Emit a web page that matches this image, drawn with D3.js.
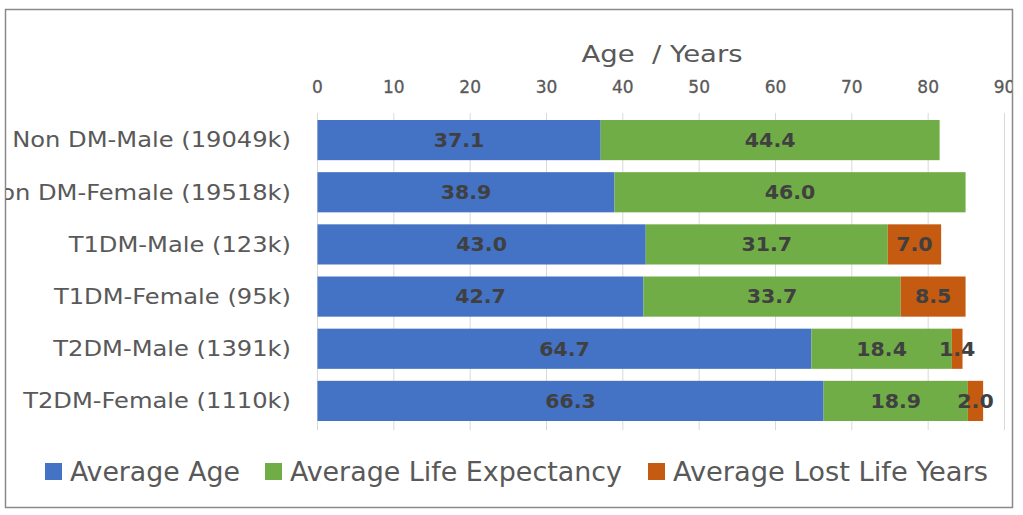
<!DOCTYPE html>
<html>
<head>
<meta charset="utf-8">
<script src="https://cdn.jsdelivr.net/npm/d3@7"></script>
<style>
  body { margin: 0; background: #fff; }
</style>
</head>
<body>
<div id="app"></div>
<script>
// DATA
const categories = [
  'Non DM-Male (19049k)',
  'Non DM-Female (19518k)',
  'T1DM-Male (123k)',
  'T1DM-Female (95k)',
  'T2DM-Male (1391k)',
  'T2DM-Female (1110k)'
];
const averageAge = [37.1, 38.9, 43.0, 42.7, 64.7, 66.3];
const lifeExpectancy = [44.4, 46.0, 31.7, 33.7, 18.4, 18.9];
const lostLifeYears = [0, 0, 7.0, 8.5, 1.4, 2.0];
const seriesNames = ['Average Age', 'Average Life Expectancy', 'Average Lost Life Years'];
const xTicks = [0, 10, 20, 30, 40, 50, 60, 70, 80, 90];

const colours = ['#4472C4', '#70AD47', '#C55A11'];
const FONT = 'DejaVu Sans, Verdana, sans-serif';

const W = 1023, H = 515;
const svg = d3.select('#app').append('svg')
  .attr('width', W).attr('height', H);

// frame
svg.append('defs').append('clipPath').attr('id', 'frame')
  .append('rect').attr('x', 6).attr('y', 10).attr('width', 1006).attr('height', 497);

svg.append('rect')
  .attr('x', 5.5).attr('y', 9.5).attr('width', 1007).attr('height', 498)
  .attr('fill', '#fff').attr('stroke', '#8a8a8a').attr('stroke-width', 1.5);

const g = svg.append('g').attr('clip-path', 'url(#frame)');

const x = d3.scaleLinear().domain([0, 90]).range([317.5, 1004.5]);
const y = d3.scaleBand().domain(categories).range([114, 427]).paddingInner(0.23).paddingOuter(0.115);

// grid
g.append('g').selectAll('line').data(xTicks).enter().append('line')
  .attr('x1', d => x(d)).attr('x2', d => x(d))
  .attr('y1', 113).attr('y2', 430)
  .attr('stroke', '#d9d9d9').attr('stroke-width', 1);

// top axis labels
g.append('g').selectAll('text').data(xTicks).enter().append('text')
  .attr('x', d => x(d)).attr('y', 92.5)
  .attr('text-anchor', 'middle')
  .attr('font-family', FONT)
  .attr('font-size', 17)
  .attr('fill', '#595959')
  .attr('stroke', '#595959').attr('stroke-width', 0.3)
  .text(d => d);

g.append('text')
  .attr('transform', 'translate(662,62) scale(1.17,1)')
  .attr('text-anchor', 'middle')
  .attr('font-family', FONT)
  .attr('font-size', 23.5)
  .attr('fill', '#595959')
  .attr('xml:space', 'preserve')
  .text('Age  / Years');

// category labels
g.append('g').selectAll('text').data(categories).enter().append('text')
  .attr('transform', d => `translate(291,${y(d) + y.bandwidth() / 2}) scale(1.18,1)`)
  .attr('dy', '0.36em')
  .attr('text-anchor', 'end')
  .attr('font-family', FONT)
  .attr('font-size', 20.5)
  .attr('fill', '#595959')
  .text(d => d);

// stacked segments
const rows = categories.map((c, i) => ({
  cat: c, vals: [averageAge[i], lifeExpectancy[i], lostLifeYears[i]]
}));
const stackData = rows.map(r => {
  let acc = 0;
  return r.vals.map((v, k) => {
    const s = { cat: r.cat, k, v, x0: acc, x1: acc + v };
    acc += v;
    return s;
  });
}).flat().filter(s => s.v > 0);

g.append('g').selectAll('rect').data(stackData).enter().append('rect')
  .attr('x', d => x(d.x0)).attr('width', d => x(d.x1) - x(d.x0))
  .attr('y', d => y(d.cat)).attr('height', y.bandwidth())
  .attr('fill', d => colours[d.k]);

g.append('g').selectAll('text').data(stackData).enter().append('text')
  .attr('transform', d => `translate(${x((d.x0 + d.x1) / 2)},${y(d.cat) + y.bandwidth() / 2}) scale(1.08,1)`)
  .attr('dy', '0.36em')
  .attr('text-anchor', 'middle')
  .attr('font-family', FONT)
  .attr('font-weight', 'bold')
  .attr('font-size', 19)
  .attr('fill', '#404040')
  .text(d => d.v.toFixed(1));

// legend
const legendX = [45, 265, 648];
const legendW = [170, 332, 315];
const leg = g.append('g').selectAll('g').data(seriesNames).enter().append('g');
leg.append('rect')
  .attr('x', (d, i) => legendX[i]).attr('y', 463)
  .attr('width', 17).attr('height', 17)
  .attr('fill', (d, i) => colours[i]);
leg.append('text')
  .attr('x', (d, i) => legendX[i] + 25).attr('y', 481)
  .attr('font-family', 'Liberation Sans Narrow, DejaVu Sans Condensed, sans-serif')
  .attr('font-size', 26)
  .attr('fill', '#595959')
  .attr('textLength', (d, i) => legendW[i])
  .attr('lengthAdjust', 'spacingAndGlyphs')
  .text(d => d);
</script>
</body>
</html>
